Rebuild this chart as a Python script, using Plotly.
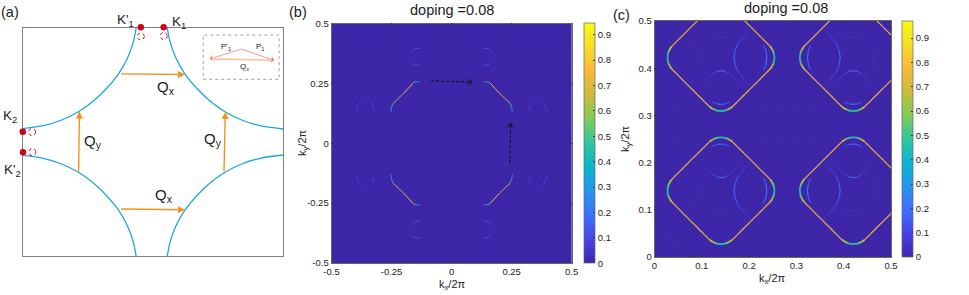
import plotly.graph_objects as go
from plotly.colors import sample_colorscale

W, H = 969, 295

# ---------- colour scale (parula) ----------
PARULA = [[0.0, "#3e26a8"], [0.1, "#4743e8"], [0.2, "#3e6ffe"], [0.3, "#2796eb"], [0.4, "#08b5d0"],
          [0.5, "#31c69f"], [0.6, "#81cc59"], [0.7, "#c8bd3a"], [0.8, "#fbb83a"], [0.9, "#f5dd28"], [1.0, "#f9fb15"]]

# ---------- panel (a): Fermi surface arcs ----------
A_TR_X = [0.0550, 0.0654, 0.0885, 0.1231, 0.1681, 0.2192, 0.2769, 0.3412, 0.4115, 0.5000]
A_TR_Y = [0.5000, 0.4399, 0.3671, 0.2982, 0.2355, 0.1798, 0.1329, 0.0965, 0.0715, 0.0570]
A_TL_X = [-0.0650, -0.0754, -0.0985, -0.1331, -0.1781, -0.2292, -0.2869, -0.3512, -0.4215, -0.5000]
A_TL_Y = [0.5000, 0.4399, 0.3671, 0.2982, 0.2355, 0.1798, 0.1329, 0.0965, 0.0715, 0.0590]
A_BL_X = [-0.5000, -0.4215, -0.3512, -0.2869, -0.2292, -0.1781, -0.1331, -0.0985, -0.0754, -0.0650]
A_BL_Y = [-0.0590, -0.0715, -0.0965, -0.1329, -0.1798, -0.2355, -0.2982, -0.3671, -0.4399, -0.5000]
A_BR_X = [0.0550, 0.0654, 0.0885, 0.1231, 0.1681, 0.2192, 0.2769, 0.3412, 0.4115, 0.5000]
A_BR_Y = [-0.5000, -0.4399, -0.3671, -0.2982, -0.2355, -0.1798, -0.1329, -0.0965, -0.0715, -0.0570]
K_DOT_X = [-0.047, 0.041, -0.501, -0.500]
K_DOT_Y = [0.503, 0.503, 0.0445, -0.0445]
K_OPEN_X = [-0.047, 0.041, -0.465, -0.464]
K_OPEN_Y = [0.463, 0.465, 0.0435, -0.0445]
# Q arrows: tail x, tail y, head x, head y
Q_ARROWS = [(-0.129, 0.299, 0.123, 0.296), (-0.129, -0.294, 0.123, -0.297),
            (-0.286, -0.136, -0.283, 0.134), (0.273, -0.136, 0.278, 0.132)]
INSET_RECT = (0.193, 0.275, 0.485, 0.469)
INSET_P_X = [0.2187, 0.340, 0.4655]
INSET_P_Y = [0.364, 0.408, 0.358]

# ---------- panel (b): spectral weight, first quadrant, mirrored ----------
B_MAIN_X = [0.132, 0.145, 0.157, 0.161, 0.200, 0.243, 0.2505, 0.2527]
B_MAIN_Y = [0.257, 0.257, 0.2546, 0.2505, 0.208, 0.167, 0.150, 0.129]
B_MAIN_V = [0.12, 0.40, 0.50, 0.80, 0.80, 0.50, 0.40, 0.12]
B_ARC1_X = [0.132, 0.145, 0.157, 0.168, 0.180]
B_ARC1_Y = [0.396, 0.396, 0.393, 0.380, 0.365]
B_ARC1_V = [0.10, 0.18, 0.11, 0.04, 0.02]
B_ARC2_X = [0.132, 0.145, 0.157, 0.174]
B_ARC2_Y = [0.324, 0.326, 0.330, 0.344]
B_ARC2_V = [0.10, 0.17, 0.09, 0.02]
B_ARC3_X = [0.3237, 0.326, 0.335, 0.347]
B_ARC3_Y = [0.139, 0.160, 0.172, 0.185]
B_ARC3_V = [0.11, 0.09, 0.04, 0.02]
B_ARC4_X = [0.396, 0.389, 0.375, 0.361]
B_ARC4_Y = [0.135, 0.160, 0.175, 0.185]
B_ARC4_V = [0.11, 0.09, 0.04, 0.02]
B_FAINT_X = [0.250, 0.235]
B_FAINT_Y = [0.014, 0.040]
B_FAINT_V = [0.025, 0.015]
B_ARROW_H_X = [-0.086, 0.088]
B_ARROW_H_Y = [0.260, 0.256]
B_ARROW_V_X = [0.243, 0.246]
B_ARROW_V_Y = [-0.0835, 0.086]

# ---------- panel (c): first quadrant of a pocket, relative to its centre ----------
C_CENTERS_X = [0.1405, 0.4203]
C_CENTERS_Y = [0.1405, 0.4223]
C_POCKET_DX = [0.024, 0.035, 0.050, 0.064, 0.078, 0.093, 0.104]
C_POCKET_DY = [0.104, 0.093, 0.078, 0.064, 0.050, 0.035, 0.024]
C_POCKET_V = [0.72, 0.84, 0.74, 0.80, 0.72, 0.84, 0.72]
C_TIP_A_DX = [0.000, 0.006, 0.012, 0.018, 0.024]
C_TIP_A_DY = [0.113, 0.1125, 0.111, 0.108, 0.104]
C_TIP_B_DX = [0.113, 0.1125, 0.111, 0.108, 0.104]
C_TIP_B_DY = [0.000, 0.006, 0.012, 0.018, 0.024]
C_TIP_V = [0.44, 0.47, 0.54, 0.64, 0.72]
C_U_DX = [-0.039, -0.018, -0.009, 0.000, 0.009, 0.018, 0.039]
C_U_DY = [0.054, 0.0345, 0.029, 0.0275, 0.029, 0.0345, 0.054]
C_U_V = [0.02, 0.08, 0.15, 0.19, 0.15, 0.08, 0.02]
C_TOP_DX = [-0.018, -0.008, 0.000, 0.008, 0.018]
C_TOP_DY = [0.094, 0.098, 0.099, 0.098, 0.094]
C_TOP_V = [0.10, 0.18, 0.20, 0.18, 0.10]
C_C_DX = [0.062, 0.050, 0.036, 0.030, 0.0275, 0.030, 0.036, 0.050, 0.062]
C_C_DY = [0.060, 0.047, 0.030, 0.015, 0.000, -0.015, -0.030, -0.047, -0.060]
C_C_V = [0.02, 0.05, 0.10, 0.17, 0.20, 0.17, 0.10, 0.05, 0.02]
C_BAR_DX = [0.090, 0.095, 0.097, 0.095, 0.090]
C_BAR_DY = [0.026, 0.015, 0.000, -0.015, -0.026]
C_BAR_V = [0.12, 0.20, 0.24, 0.20, 0.12]
C_FAINT1_DX = [-0.064, -0.050, -0.043, -0.050, -0.064]
C_FAINT1_DY = [0.040, 0.020, 0.000, -0.020, -0.040]
C_FAINT2_DX = [-0.036, -0.018, 0.000, 0.018, 0.036]
C_FAINT2_DY = [-0.062, -0.047, -0.043, -0.047, -0.062]
C_FAINT3_DX = [0.078, 0.103]
C_FAINT3_DY = [0.097, 0.118]
C_FAINT4_DX = [0.107, 0.131]
C_FAINT4_DY = [0.090, 0.111]
C_FAINT_V = 0.025

TITLE = "doping =0.08"
B_TICKS = [-0.5, -0.25, 0, 0.25, 0.5]
B_TICKTEXT = ["-0.5", "-0.25", "0", "0.25", "0.5"]
C_TICKS = [0, 0.1, 0.2, 0.3, 0.4, 0.5]
C_TICKTEXT = ["0", "0.1", "0.2", "0.3", "0.4", "0.5"]
CB_TICKS = [0, 0.1, 0.2, 0.3, 0.4, 0.5, 0.6, 0.7, 0.8, 0.9]
CB_TICKTEXT = ["0", "0.1", "0.2", "0.3", "0.4", "0.5", "0.6", "0.7", "0.8", "0.9"]
B_ZMAX = 0.945
C_ZMAX = 0.97

FONT = "Liberation Sans"
TXT = "#1c1c1c"


def px(x):
    return x / W


def py(y):
    return 1 - y / H


def add_colored(fig, paths, zmax, xa, ya, width=1.1):
    buckets = {}
    for xs, ys, vs in paths:
        for i in range(len(xs) - 1):
            v = round((vs[i] + vs[i + 1]) / 2, 2)
            b = buckets.setdefault(v, ([], []))
            b[0].extend([xs[i], xs[i + 1], None])
            b[1].extend([ys[i], ys[i + 1], None])
    for v in sorted(buckets):
        col = sample_colorscale(PARULA, min(v / zmax, 1))[0]
        fig.add_trace(go.Scatter(x=buckets[v][0], y=buckets[v][1], mode="lines", xaxis=xa, yaxis=ya,
                                 line=dict(color=col, width=width), hoverinfo="skip", showlegend=False))


def background(fig, x, y, zmax, xa, ya, cb_x, cb_top, cb_bottom):
    fig.add_trace(go.Heatmap(
        x=x, y=y, z=[[0, 0], [0, 0]], zmin=0, zmax=zmax, colorscale=PARULA, xaxis=xa, yaxis=ya,
        hoverinfo="skip",
        colorbar=dict(x=px(cb_x), xanchor="left", xpad=0, ypad=0, y=py((cb_top + cb_bottom) / 2), yanchor="middle",
                      len=(cb_bottom - cb_top) / H, lenmode="fraction", thickness=11, thicknessmode="pixels",
                      outlinecolor="#666666", outlinewidth=0.7, tickvals=CB_TICKS, ticktext=CB_TICKTEXT,
                      ticks="inside", ticklen=2, tickcolor="#333333",
                      tickfont=dict(family=FONT, size=9.5, color=TXT))))


fig = go.Figure()

# ---- panel a ----
for xs, ys in [(A_TR_X, A_TR_Y), (A_TL_X, A_TL_Y), (A_BL_X, A_BL_Y), (A_BR_X, A_BR_Y)]:
    fig.add_trace(go.Scatter(x=xs, y=ys, mode="lines", xaxis="x", yaxis="y", hoverinfo="skip", showlegend=False,
                             line=dict(color="#1fa5dc", width=1.3, shape="spline", smoothing=0.8)))
fig.add_trace(go.Scatter(x=INSET_P_X, y=INSET_P_Y, mode="lines+markers", xaxis="x", yaxis="y", hoverinfo="skip",
                         showlegend=False, line=dict(color="#f29a9a", width=1),
                         marker=dict(symbol="arrow-wide", size=[6, 0, 6], angle=[-108, 0, 108], color="#e8503a",
                                     line=dict(width=0))))
# dots sit on the frame, so they go on an invisible, slightly larger axis pair with the same scale
fig.add_trace(go.Scatter(x=K_DOT_X, y=K_DOT_Y, mode="markers", xaxis="x4", yaxis="y4", hoverinfo="skip",
                         showlegend=False, marker=dict(color="#d0021b", size=6.5)))

# ---- panel b ----
background(fig, [-0.5, 0.5], [-0.5, 0.5], B_ZMAX, "x2", "y2", 584, 23.5, 263)
b_paths = []
for bx, by, bv in [(B_MAIN_X, B_MAIN_Y, B_MAIN_V), (B_ARC1_X, B_ARC1_Y, B_ARC1_V), (B_ARC2_X, B_ARC2_Y, B_ARC2_V),
                   (B_ARC3_X, B_ARC3_Y, B_ARC3_V), (B_ARC4_X, B_ARC4_Y, B_ARC4_V), (B_FAINT_X, B_FAINT_Y, B_FAINT_V)]:
    for sx in (1, -1):
        for sy in (1, -1):
            b_paths.append(([sx * a for a in bx], [sy * a for a in by], bv))
add_colored(fig, b_paths, B_ZMAX, "x2", "y2", width=0.9)
for ax_, ay_ in [(B_ARROW_H_X, B_ARROW_H_Y), (B_ARROW_V_X, B_ARROW_V_Y)]:
    fig.add_trace(go.Scatter(x=ax_, y=ay_, mode="lines+markers", xaxis="x2", yaxis="y2", hoverinfo="skip",
                             showlegend=False, line=dict(color="#111111", width=1.1, dash="3px,2px"),
                             marker=dict(symbol="arrow-wide", angleref="previous", size=[0, 8], color="#111111",
                                         line=dict(width=0))))

# ---- panel c ----
background(fig, [0, 0.5], [0, 0.5], C_ZMAX, "x3", "y3", 902, 21, 257)
c_paths = []
tip_paths = []
faint_paths = []
for ic, cx in enumerate(C_CENTERS_X):
    for jc, cy in enumerate(C_CENTERS_Y):
        fx = 1 if ic == 0 else -1
        fy = 1 if jc == 0 else -1
        for sx in (1, -1):
            for sy in (1, -1):
                c_paths.append(([cx + sx * a for a in C_POCKET_DX], [cy + sy * a for a in C_POCKET_DY], C_POCKET_V))
                tip_paths.append(([cx + sx * a for a in C_TIP_A_DX], [cy + sy * a for a in C_TIP_A_DY], C_TIP_V))
                tip_paths.append(([cx + sx * a for a in C_TIP_B_DX], [cy + sy * a for a in C_TIP_B_DY], C_TIP_V))
        for dx, dy, v in [(C_U_DX, C_U_DY, C_U_V), (C_TOP_DX, C_TOP_DY, C_TOP_V),
                          (C_C_DX, C_C_DY, C_C_V), (C_BAR_DX, C_BAR_DY, C_BAR_V)]:
            c_paths.append(([cx + fx * a for a in dx], [cy + fy * a for a in dy], v))
        for dx, dy in [(C_FAINT1_DX, C_FAINT1_DY), (C_FAINT2_DX, C_FAINT2_DY)]:
            faint_paths.append(([cx + fx * a for a in dx], [cy + fy * a for a in dy], [C_FAINT_V] * len(dx)))
        for dx, dy in [(C_FAINT3_DX, C_FAINT3_DY), (C_FAINT4_DX, C_FAINT4_DY)]:
            for sx in (1, -1):
                for sy in (1, -1):
                    faint_paths.append(([cx + sx * a for a in dx], [cy + sy * a for a in dy], [C_FAINT_V] * 2))
add_colored(fig, faint_paths, C_ZMAX, "x3", "y3", width=0.8)
add_colored(fig, c_paths, C_ZMAX, "x3", "y3", width=1.1)
add_colored(fig, tip_paths, C_ZMAX, "x3", "y3", width=1.8)

# ---- annotations ----
ann = []
for x0, y0, x1, y1 in Q_ARROWS:
    ann.append(dict(x=x1, y=y1, ax=x0, ay=y0, xref="x", yref="y", axref="x", ayref="y", text="", showarrow=True,
                    arrowhead=2, arrowsize=1, arrowwidth=1.4, arrowcolor="#f78f1e", standoff=0))
ann.append(dict(x=INSET_P_X[2] - 0.01, y=INSET_P_Y[2] + 0.002, ax=INSET_P_X[0], ay=INSET_P_Y[0], xref="x", yref="y",
                axref="x", ayref="y", text="", showarrow=True, arrowhead=0, arrowwidth=1.5, arrowcolor="#fbc08f"))


def label(text, x, y, size, color=TXT, **kw):
    ann.append(dict(text=text, x=px(x), y=py(y), xref="paper", yref="paper", showarrow=False, xanchor="center",
                    yanchor="middle", font=dict(family=FONT, size=size, color=color), **kw))


label("(a)", 10, 12, 14.5)
label("(b)", 298, 12, 14.5)
label("(c)", 621, 15, 14.5)
label("K'<sub>1</sub>", 125, 21, 13.5)
label("K<sub>1</sub>", 179, 22, 13.5)
label("K<sub>2</sub>", 10, 116, 13.5)
label("K'<sub>2</sub>", 12, 170, 13.5)
label("Q<sub>x</sub>", 166, 88, 15)
label("Q<sub>x</sub>", 164, 195, 15)
label("Q<sub>y</sub>", 93, 141, 15)
label("Q<sub>y</sub>", 213, 139, 15)
label("P'<sub>1</sub>", 226, 47, 8)
label("P<sub>1</sub>", 260, 47, 8)
label("Q<sub>x</sub>", 244, 67, 8)
label(TITLE, 451.5, 10, 14.5)
label(TITLE, 786, 8, 14.5)
label("k<sub>x</sub>/2π", 452, 285, 11)
label("k<sub>y</sub>/2π", 303, 143, 11, textangle=-90)
label("k<sub>x</sub>/2π", 772, 279, 11)
label("k<sub>y</sub>/2π", 626, 139, 11, textangle=-90)

shapes = [dict(type="rect", xref="x", yref="y", x0=INSET_RECT[0], y0=INSET_RECT[1], x1=INSET_RECT[2], y1=INSET_RECT[3],
               line=dict(color="#8c8c8c", width=0.8, dash="dot"))]
for ox, oy in zip(K_OPEN_X, K_OPEN_Y):
    shapes.append(dict(type="circle", xref="x", yref="y", xsizemode="pixel", ysizemode="pixel", xanchor=ox, yanchor=oy,
                       x0=-3.5, x1=3.5, y0=-3.5, y1=3.5, line=dict(color="#d0021b", width=1, dash="dot")))


def heat_axis(tickvals, ticktext, rng, domain, anchor):
    return dict(range=rng, domain=domain, anchor=anchor, tickvals=tickvals, ticktext=ticktext, ticks="inside", ticklen=2.5,
                tickcolor="#333333", tickwidth=0.6, showgrid=False, zeroline=False, showline=True, mirror="ticks",
                linecolor="#666666", linewidth=0.8, tickfont=dict(family=FONT, size=9.5, color=TXT))


PAD = 13
fig.update_layout(
    width=W, height=H, autosize=False, margin=dict(l=0, r=0, t=0, b=0, autoexpand=False),
    paper_bgcolor="white", plot_bgcolor="rgba(0,0,0,0)",
    showlegend=False, annotations=ann, shapes=shapes,
    xaxis=dict(domain=[px(23), px(283)], range=[-0.5, 0.5], anchor="y", showticklabels=False, ticks="", showgrid=False,
               zeroline=False, showline=True, mirror=True, linecolor="#808080", linewidth=1.4),
    yaxis=dict(domain=[py(256), py(28)], range=[-0.5, 0.5], anchor="x", showticklabels=False, ticks="", showgrid=False,
               zeroline=False, showline=True, mirror=True, linecolor="#808080", linewidth=1.4),
    xaxis2=heat_axis(B_TICKS, B_TICKTEXT, [-0.5, 0.5], [px(331.5), px(571.7)], "y2"),
    yaxis2=heat_axis(B_TICKS, B_TICKTEXT, [-0.5, 0.5], [py(263), py(23.5)], "x2"),
    xaxis3=heat_axis(C_TICKS, C_TICKTEXT, [0, 0.5], [px(654.5), px(891)], "y3"),
    yaxis3=heat_axis(C_TICKS, C_TICKTEXT, [0, 0.5], [py(257), py(21)], "x3"),
    xaxis4=dict(domain=[px(23 - PAD), px(283 + PAD)], range=[-0.5 - PAD / 260, 0.5 + PAD / 260], anchor="y4", visible=False),
    yaxis4=dict(domain=[py(256 + PAD), py(28 - PAD)], range=[-0.5 - PAD / 228, 0.5 + PAD / 228], anchor="x4", visible=False),
)

# the page's default 8px body margin would shift the whole figure
fig.write_html("out.html", config={"displayModeBar": False},
               post_script="document.body.style.margin='0';document.documentElement.style.overflow='hidden';")
